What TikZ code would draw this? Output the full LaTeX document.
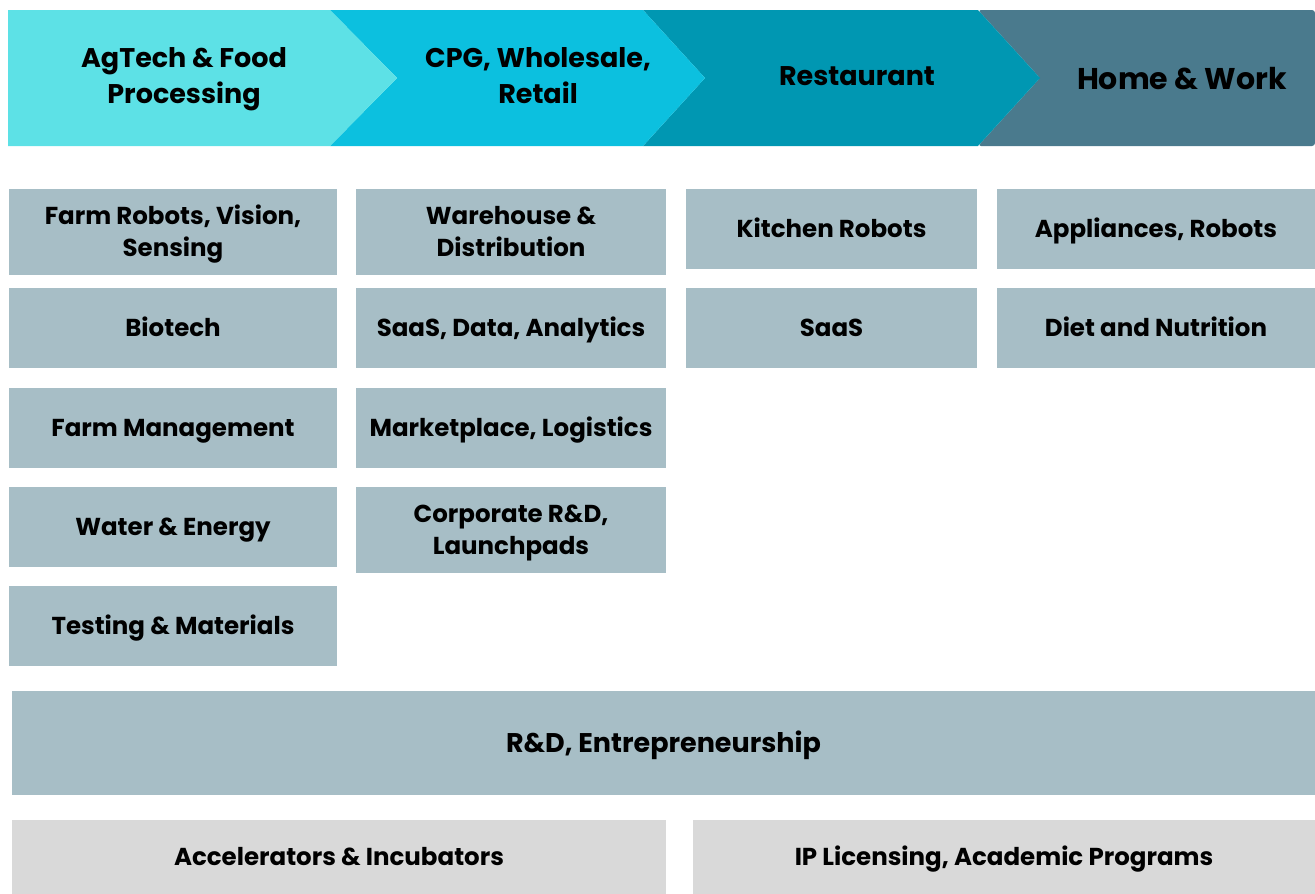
\documentclass[tikz,border=0pt]{standalone}
\usepackage{fontspec}
\setmainfont{Poppins}
\definecolor{chevA}{HTML}{5DE1E6}
\definecolor{chevB}{HTML}{0CC0DF}
\definecolor{chevC}{HTML}{0097B2}
\definecolor{chevD}{HTML}{4A7A8D}
\definecolor{cellc}{HTML}{A7BEC6}
\definecolor{basec}{HTML}{D9D9D9}
\tikzset{
  cell/.style={fill=cellc, inner sep=0pt, align=center,
    text height=17pt, text depth=0pt,
    font=\bfseries\fontsize{24.5}{32}\selectfont},
  twolines/.style={text height=49pt},
  basecell/.style={cell, fill=basec},
  headtext/.style={inner sep=0pt, align=center,
    text height=19pt, text depth=0pt,
    font=\bfseries\fontsize{27}{36}\selectfont},
  headtwo/.style={text height=55pt},
}
\begin{document}
\begin{tikzpicture}[x=1pt,y=-1pt]
\useasboundingbox (0,0) rectangle (1315,894);
% stage chevrons along the top
\fill[chevD, rounded corners=3pt] (978,10) -- (1315,10) -- (1315,146) -- (978,146) -- (1040,78) -- cycle;
\fill[chevC] (643,10) -- (978,10) -- (1040,78) -- (978,146) -- (643,146) -- (705,78) -- cycle;
\fill[chevB] (330,10) -- (643,10) -- (705,78) -- (643,146) -- (330,146) -- (397,78) -- cycle;
\fill[chevA] (8,10) -- (330,10) -- (397,78) -- (330,146) -- (8,146) -- cycle;
\node[headtext, headtwo] (hA) at (184,76) {AgTech \& Food\\Processing};
\node[headtext, headtwo] (hB) at (538,76) {CPG, Wholesale,\\Retail};
\node[headtext] (hC) at (857,76) {Restaurant};
\node[headtext, text height=21pt, font=\bfseries\fontsize{30}{36}\selectfont] (hD) at (1182,79) {Home \& Work};
% first column
\node[cell, twolines, minimum width=328, minimum height=86] (fr) at (173,232) {Farm Robots, Vision,\\Sensing};
\node[cell, minimum width=328, minimum height=80] (bio) at (173,328) {Biotech};
\node[cell, minimum width=328, minimum height=80] (fm) at (173,428) {Farm Management};
\node[cell, minimum width=328, minimum height=80] (we) at (173,527) {Water \& Energy};
\node[cell, minimum width=328, minimum height=80] (tm) at (173,626) {Testing \& Materials};
% second column
\node[cell, twolines, minimum width=310, minimum height=86] (wd) at (511,232) {Warehouse \&\\Distribution};
\node[cell, minimum width=310, minimum height=80] (sda) at (511,328) {SaaS, Data, Analytics};
\node[cell, minimum width=310, minimum height=80] (ml) at (511,428) {Marketplace, Logistics};
\node[cell, twolines, minimum width=310, minimum height=86] (crd) at (511,530) {Corporate R\&D,\\Launchpads};
% third column
\node[cell, minimum width=291, minimum height=80] (kr) at (831.5,229) {Kitchen Robots};
\node[cell, minimum width=291, minimum height=80] (ks) at (831.5,328) {SaaS};
% fourth column
\node[cell, minimum width=318, minimum height=80] (ar) at (1156,229) {Appliances, Robots};
\node[cell, minimum width=318, minimum height=80] (dn) at (1156,328) {Diet and Nutrition};
% foundation rows
\node[cell, text height=19pt, minimum width=1303, minimum height=104, font=\bfseries\fontsize{27}{32}\selectfont] (rd) at (663.5,743) {R\&D, Entrepreneurship};
\node[basecell, minimum width=654, minimum height=74] (acc) at (339,857) {Accelerators \& Incubators};
\node[basecell, minimum width=622, minimum height=74] (ip) at (1004,857) {IP Licensing, Academic Programs};
\end{tikzpicture}
\end{document}
